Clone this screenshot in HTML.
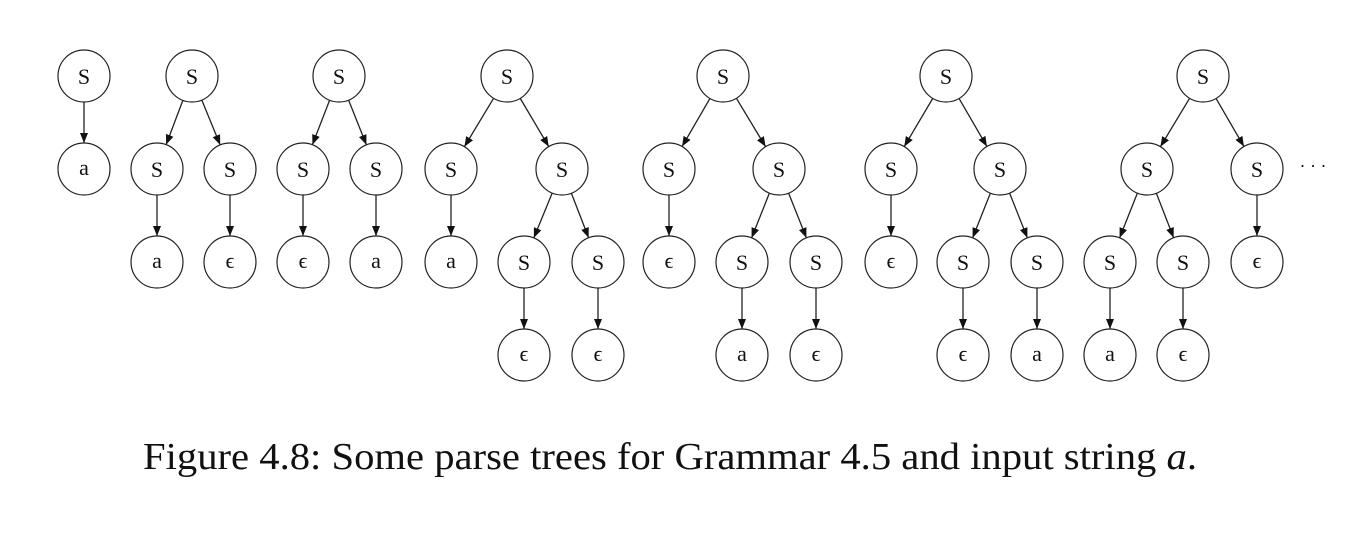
<!DOCTYPE html>
<html><head><meta charset="utf-8"><style>
body{margin:0;background:#fff;width:1366px;height:544px;overflow:hidden}
svg text{font-family:"Liberation Serif",serif;fill:#111}
</style></head><body>
<svg id="s" width="1366" height="544" viewBox="0 0 1366 544">
<defs><marker id="ah" viewBox="0 0 10 10" refX="10" refY="5" markerWidth="10" markerHeight="14" markerUnits="userSpaceOnUse" orient="auto"><path d="M0,1 L10,5 L0,9 z" fill="#111"/></marker></defs>
<g id="edges" stroke="#222" stroke-width="1.3" fill="none"></g>
<g stroke="#222" stroke-width="1.2" fill="#fff" font-size="20" text-anchor="middle">
<circle cx="84" cy="76" r="26"/><circle cx="84" cy="169" r="26"/>
<circle cx="192" cy="76" r="26"/><circle cx="157" cy="169" r="26"/><circle cx="230" cy="169" r="26"/><circle cx="157" cy="262" r="26"/><circle cx="230" cy="262" r="26"/>
<circle cx="339" cy="76" r="26"/><circle cx="303" cy="169" r="26"/><circle cx="376" cy="169" r="26"/><circle cx="303" cy="262" r="26"/><circle cx="376" cy="262" r="26"/>
<circle cx="507" cy="76" r="26"/><circle cx="451" cy="169" r="26"/><circle cx="562" cy="169" r="26"/><circle cx="451" cy="262" r="26"/><circle cx="524" cy="262" r="26"/><circle cx="598" cy="262" r="26"/><circle cx="524" cy="355" r="26"/><circle cx="598" cy="355" r="26"/>
<circle cx="723" cy="76" r="26"/><circle cx="669" cy="169" r="26"/><circle cx="779" cy="169" r="26"/><circle cx="669" cy="262" r="26"/><circle cx="742" cy="262" r="26"/><circle cx="816" cy="262" r="26"/><circle cx="742" cy="355" r="26"/><circle cx="816" cy="355" r="26"/>
<circle cx="946" cy="76" r="26"/><circle cx="891" cy="169" r="26"/><circle cx="1000" cy="169" r="26"/><circle cx="891" cy="262" r="26"/><circle cx="963" cy="262" r="26"/><circle cx="1037" cy="262" r="26"/><circle cx="963" cy="355" r="26"/><circle cx="1037" cy="355" r="26"/>
<circle cx="1203" cy="76" r="26"/><circle cx="1147" cy="169" r="26"/><circle cx="1257" cy="169" r="26"/><circle cx="1110" cy="262" r="26"/><circle cx="1183" cy="262" r="26"/><circle cx="1257" cy="262" r="26"/><circle cx="1110" cy="355" r="26"/><circle cx="1183" cy="355" r="26"/>
</g>
<g font-size="22" text-anchor="middle" stroke="none">
<text x="84" y="84">S</text><text x="84" y="175">a</text>
<text x="192" y="84">S</text><text x="157" y="177">S</text><text x="230" y="177">S</text><text x="157" y="268">a</text><text x="230" y="268">ϵ</text>
<text x="339" y="84">S</text><text x="303" y="177">S</text><text x="376" y="177">S</text><text x="303" y="268">ϵ</text><text x="376" y="268">a</text>
<text x="507" y="84">S</text><text x="451" y="177">S</text><text x="562" y="177">S</text><text x="451" y="268">a</text><text x="524" y="270">S</text><text x="598" y="270">S</text><text x="524" y="361">ϵ</text><text x="598" y="361">ϵ</text>
<text x="723" y="84">S</text><text x="669" y="177">S</text><text x="779" y="177">S</text><text x="669" y="268">ϵ</text><text x="742" y="270">S</text><text x="816" y="270">S</text><text x="742" y="361">a</text><text x="816" y="361">ϵ</text>
<text x="946" y="84">S</text><text x="891" y="177">S</text><text x="1000" y="177">S</text><text x="891" y="268">ϵ</text><text x="963" y="270">S</text><text x="1037" y="270">S</text><text x="963" y="361">ϵ</text><text x="1037" y="361">a</text>
<text x="1203" y="84">S</text><text x="1147" y="177">S</text><text x="1257" y="177">S</text><text x="1110" y="270">S</text><text x="1183" y="270">S</text><text x="1257" y="268">ϵ</text><text x="1110" y="361">a</text><text x="1183" y="361">ϵ</text>
<text x="1313" y="172" font-size="18">· · ·</text>
</g>
<text x="143" y="469" font-size="38" textLength="1054" lengthAdjust="spacingAndGlyphs">Figure 4.8: Some parse trees for Grammar 4.5 and input string <tspan font-style="italic">a</tspan>.</text>
</svg>
<script>
var E=[[84,76,84,169],
[192,76,157,169],[192,76,230,169],[157,169,157,262],[230,169,230,262],
[339,76,303,169],[339,76,376,169],[303,169,303,262],[376,169,376,262],
[507,76,451,169],[507,76,562,169],[451,169,451,262],[562,169,524,262],[562,169,598,262],[524,262,524,355],[598,262,598,355],
[723,76,669,169],[723,76,779,169],[669,169,669,262],[779,169,742,262],[779,169,816,262],[742,262,742,355],[816,262,816,355],
[946,76,891,169],[946,76,1000,169],[891,169,891,262],[1000,169,963,262],[1000,169,1037,262],[963,262,963,355],[1037,262,1037,355],
[1203,76,1147,169],[1203,76,1257,169],[1147,169,1110,262],[1147,169,1183,262],[1257,169,1257,262],[1110,262,1110,355],[1183,262,1183,355]];
var g=document.getElementById('edges'),r=26;
E.forEach(function(e){var dx=e[2]-e[0],dy=e[3]-e[1],d=Math.hypot(dx,dy),ux=dx/d,uy=dy/d;
var l=document.createElementNS('http://www.w3.org/2000/svg','line');
l.setAttribute('x1',e[0]+ux*r);l.setAttribute('y1',e[1]+uy*r);l.setAttribute('x2',e[2]-ux*r);l.setAttribute('y2',e[3]-uy*r);
l.setAttribute('marker-end','url(#ah)');g.appendChild(l);});
</script>
</body></html>
